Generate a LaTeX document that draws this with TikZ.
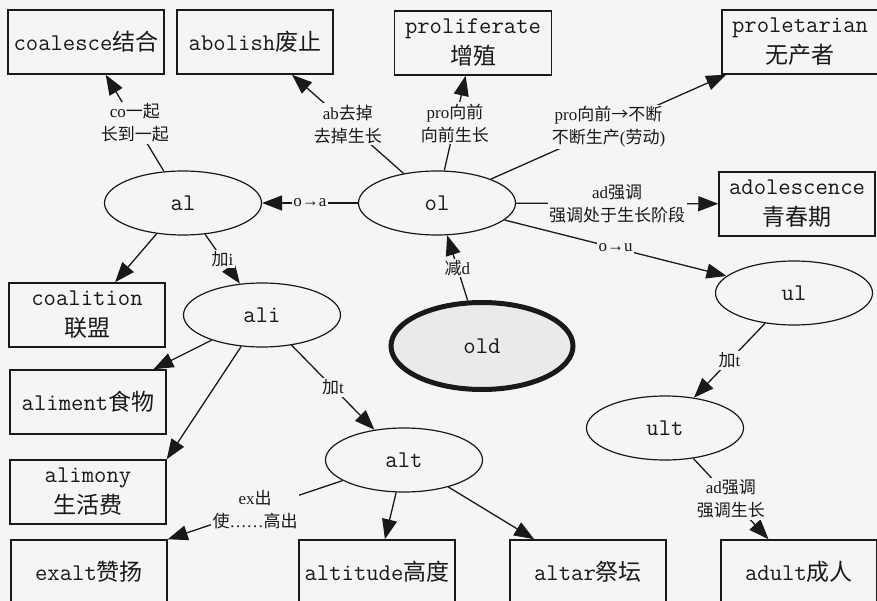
\documentclass[tikz,border=0pt]{standalone}
\usepackage{fontspec}
\setmainfont{Liberation Serif}
\newfontfamily\cjk{Noto Sans CJK SC}
\usetikzlibrary{shapes.geometric,arrows.meta}
\definecolor{bg}{RGB}{245,245,245}
\definecolor{ink}{RGB}{25,25,25}
\definecolor{oldfill}{RGB}{234,234,234}
\newcommand\boxfont{\fontsize{24}{31}\selectfont\ttfamily}
\newcommand\labfont{\fontsize{17}{23}\selectfont}
\newcommand\zhB[1]{{\cjk\fontsize{23}{31}\selectfont #1}}
\newcommand\zhL[1]{{\cjk #1}}
\tikzset{
  box/.style={draw=ink, line width=1.5pt, minimum width=156pt, minimum height=64pt,
    inner sep=0pt, align=center, font=\boxfont, text=ink},
  oval/.style={ellipse, draw=ink, line width=1.2pt, minimum width=157pt, minimum height=64pt,
    inner sep=0pt, font=\boxfont, text=ink},
  link/.style={draw=ink, line width=1.3pt, -{Triangle[length=20pt,width=15pt]}},
  lab/.style={fill=bg, inner sep=1.5pt, align=center, font=\labfont, text=ink},
}
\begin{document}
\begin{tikzpicture}[x=1pt,y=-1pt]
\useasboundingbox (0,0) rectangle (877,601);
\clip (0,0) rectangle (877,601);
\fill[bg] (0,0) rectangle (877,601);

% boxes
\node[box] (coal) at (86,42) {coalesce\zhB{结合}};
\node[box] (abol) at (255,42) {abolish\zhB{废止}};
\node[box, minimum width=157pt] (prolif) at (473,43) {proliferate\\\zhB{增殖}};
\node[box] (prolet) at (800,42) {proletarian\\\zhB{无产者}};
\node[box] (adol) at (797,204) {adolescence\\\zhB{青春期}};
\node[box] (coali) at (87,315) {coalition\\\zhB{联盟}};
\node[box] (alim1) at (88,402) {aliment\zhB{食物}};
\node[box] (alim2) at (88,492) {alimony\\\zhB{生活费}};
\node[box] (exalt) at (89,572) {exalt\zhB{赞扬}};
\node[box] (altit) at (377,572) {altitude\zhB{高度}};
\node[box] (altar) at (588,572) {altar\zhB{祭坛}};
\node[box] (adult) at (799,572) {adult\zhB{成人}};

% ellipses
\node[oval] (al) at (183,203) {al};
\node[oval] (ol) at (437,203) {ol};
\node[oval] (ali) at (262,315) {ali};
\node[oval, line width=5pt, fill=oldfill, minimum width=182pt, minimum height=87pt] (old) at (482,346) {old};
\node[oval] (ul) at (794,293) {ul};
\node[oval] (ult) at (665,428) {ult};
\node[oval] (alt) at (404,460) {alt};

% connectors
\draw[link] (al) -- node[lab]{co\zhL{一起}\\\zhL{长到一起}} (coal);
\draw[link] (ol) -- node[lab]{ab\zhL{去掉}\\\zhL{去掉生长}} (abol);
\draw[link] (ol) -- node[lab]{pro\zhL{向前}\zhL{→}\zhL{不断}\\\zhL{不断生产}(\zhL{劳动})} (prolet);
\draw[link] (ol) -- node[lab]{pro\zhL{向前}\\\zhL{向前生长}} (prolif);
\draw[link] (ol) -- node[lab]{ad\zhL{强调}\\\zhL{强调处于生长阶段}} (adol);
\draw[link] (ol) -- node[lab]{o→a} (al);
\draw[link] (ol) -- node[lab]{o→u} (ul);
\draw[link] (old) -- node[lab]{\zhL{减}d} (ol);
\draw[link] (al) -- (coali);
\draw[link] (al) -- node[lab]{\zhL{加}i} (ali);
\draw[link] (ali) -- (alim1);
\draw[link] (ali) -- (alim2.north east);
\draw[link] (ali) -- node[lab]{\zhL{加}t} (alt);
\draw[link] (alt) -- node[lab]{ex\zhL{出}\\\zhL{使}……\zhL{高出}} (exalt.north east);
\draw[link] (alt) -- (altit);
\draw[link] (alt) -- (altar);
\draw[link] (ul) -- node[lab]{\zhL{加}t} (ult);
\draw[link] (ult) -- node[lab]{ad\zhL{强调}\\\zhL{强调生长}} (adult);
\end{tikzpicture}
\end{document}
